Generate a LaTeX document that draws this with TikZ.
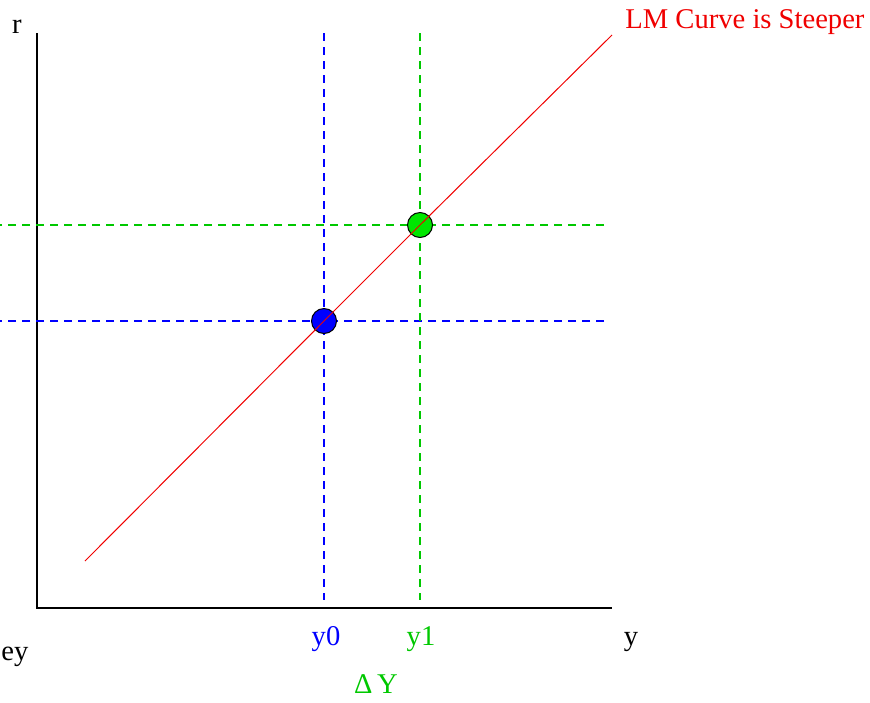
\documentclass[tikz,border=0pt]{standalone}
\usepackage{fontspec}
\setmainfont{Liberation Serif}
\usepackage{xcolor}
\usetikzlibrary{positioning,arrows.meta}
\definecolor{lmred}{RGB}{240,0,0}
\definecolor{dotgreen}{RGB}{0,230,0}
\definecolor{linegreen}{RGB}{0,200,0}
\definecolor{lineblue}{RGB}{0,0,255}

\begin{document}
\begin{tikzpicture}[
  x=0.5pt, y=-0.5pt,
  axis/.style={black, line width=0.6pt},
  guide/.style={line width=0.6pt, dash pattern=on 4pt off 3pt},
  hguide/.style={guide, line width=0.9pt},
  curve/.style={lmred, line width=0.5pt},
  dot/.style={circle, draw=black, line width=0.5pt, minimum size=12.5pt, inner sep=0pt},
  lbl/.style={font=\fontsize{14.3}{17}\selectfont, inner sep=0pt}
]
  \useasboundingbox (0,0) rectangle (870,702);

  % axes
  \coordinate (top)    at (37,33);
  \coordinate (origin) at (37,608);
  \coordinate (right)  at (612,608);
  \draw[axis] (top) -- (origin) -- (right);
  \node[lbl, anchor=base] (rlab) at (17,33) {r};
  \node[lbl, anchor=base] (ylab) at (631,645) {y};
  \node[lbl, anchor=base west] (eylab) at (1,660) {ey};

  % guide lines
  \coordinate (b1) at (324,33);  \coordinate (b2) at (324,600);
  \coordinate (b3) at (0,321);   \coordinate (b4) at (604,321);
  \coordinate (g1) at (420,33);  \coordinate (g2) at (420,600);
  \coordinate (g3) at (0,225);   \coordinate (g4) at (604,225);
  \draw[guide, draw=lineblue] (b1) -- (b2);
  \draw[hguide, draw=lineblue] (b4) -- (b3);
  \draw[guide, draw=linegreen] (g1) -- (g2);
  \draw[hguide, draw=linegreen] (g4) -- (g3);

  % LM curve
  \coordinate (lm0) at (85,561);
  \coordinate (lm1) at (612,35);
  \node[lbl, text=lmred, anchor=west] (lmlab) at (625,22) {LM Curve is Steeper};

  % equilibria
  \node[dot, fill=blue] (e0) at (324,321) {};
  \node[dot, fill=dotgreen] (e1) at (420,225) {};
  \draw[curve] (lm0) -- (e0.center) -- (e1.center) -- (lm1);

  \node[lbl, text=blue, anchor=base] (y0lab) at (326,645) {y0};
  \node[lbl, text=linegreen, anchor=base] (y1lab) at (421,645) {y1};
  \node[lbl, text=linegreen, anchor=base] (dylab) at (376,693) {Δ\,Y};
\end{tikzpicture}
\end{document}
